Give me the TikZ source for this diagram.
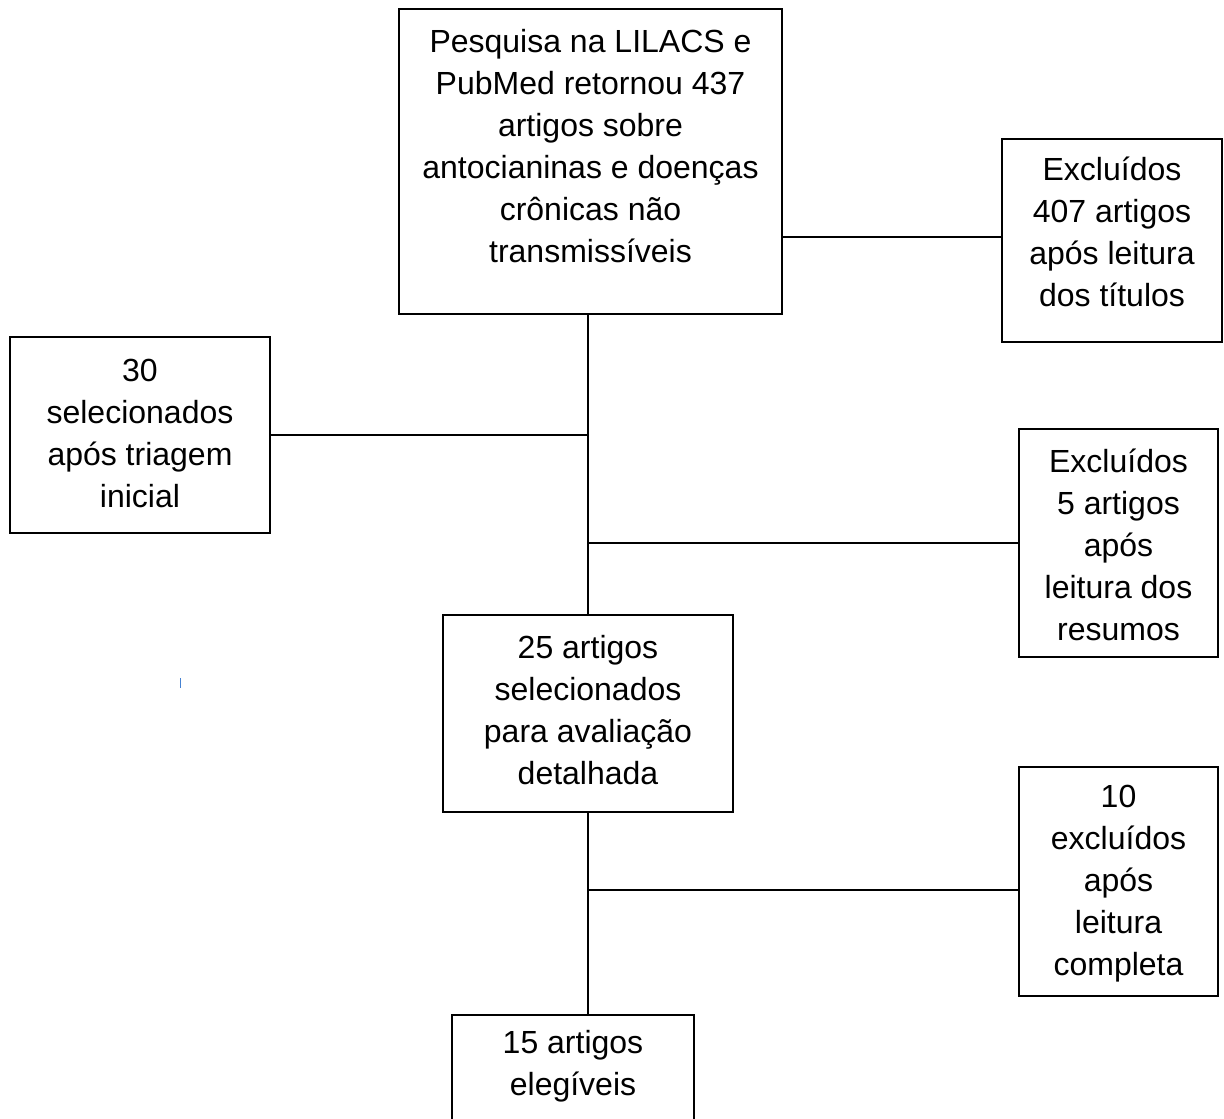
\documentclass[tikz,border=0pt]{standalone}
\usepackage{fontspec}
\setmainfont{Liberation Sans}
\definecolor{markblue}{RGB}{70,130,210}
\begin{document}
\begin{tikzpicture}[x=1pt,y=-1pt,
  box/.style={draw, line width=1.6pt, inner sep=0pt},
  txt/.style={align=center, inner sep=0pt, font=\fontsize{32pt}{42pt}\selectfont},
  conn/.style={line width=1.6pt}]
\useasboundingbox (0,0) rectangle (1224,1119);
% boxes
\node[box, minimum width=383pt, minimum height=305pt] (top) at (590.5,161.5) {};
\node[box, minimum width=220pt, minimum height=203pt] (r1) at (1112,240.5) {};
\node[box, minimum width=260pt, minimum height=196pt] (left) at (140,435) {};
\node[box, minimum width=199pt, minimum height=228pt] (r2) at (1118.5,543) {};
\node[box, minimum width=290pt, minimum height=197pt] (mid) at (588,713.5) {};
\node[box, minimum width=199pt, minimum height=229pt] (r3) at (1118.5,881.5) {};
\node[box, minimum width=242pt, minimum height=230pt] (bot) at (573,1130) {};
% texts
\node[txt] (ttop) at (590.5,146) {Pesquisa na LILACS e\\PubMed retornou 437\\artigos sobre\\antocianinas e doenças\\crônicas não\\transmissíveis};
\node[txt] (tr1) at (1112,232) {Excluídos\\407 artigos\\após leitura\\dos títulos};
\node[txt] (tleft) at (140,433) {30\\selecionados\\após triagem\\inicial};
\node[txt] (tr2) at (1118.5,545) {Excluídos\\5 artigos\\após\\leitura dos\\resumos};
\node[txt] (tmid) at (588,710) {25 artigos\\selecionados\\para avaliação\\detalhada};
\node[txt] (tr3) at (1118.5,884) {10\\excluídos\\após\\leitura\\completa};
\node[txt] (tbot) at (573,1066) {15 artigos\\elegíveis};
% connectors
\draw[conn] (top.south -| mid.north) -- (mid.north);
\draw[conn] ([yshift=3.5pt]r1.west -| top.east) -- ([yshift=3.5pt]r1.west);
\draw[conn] (left.east) -- (left.east -| mid.north);
\draw[conn] (r2.west -| mid.north) -- (r2.west);
\draw[conn] (mid.south) -- (mid.south |- bot.north);
\draw[conn] ([yshift=-8.5pt]r3.west -| mid.south) -- ([yshift=-8.5pt]r3.west);
% small mark
\draw[markblue, line width=1.2pt] (180.5,678) -- (180.5,688);
\end{tikzpicture}
\end{document}
